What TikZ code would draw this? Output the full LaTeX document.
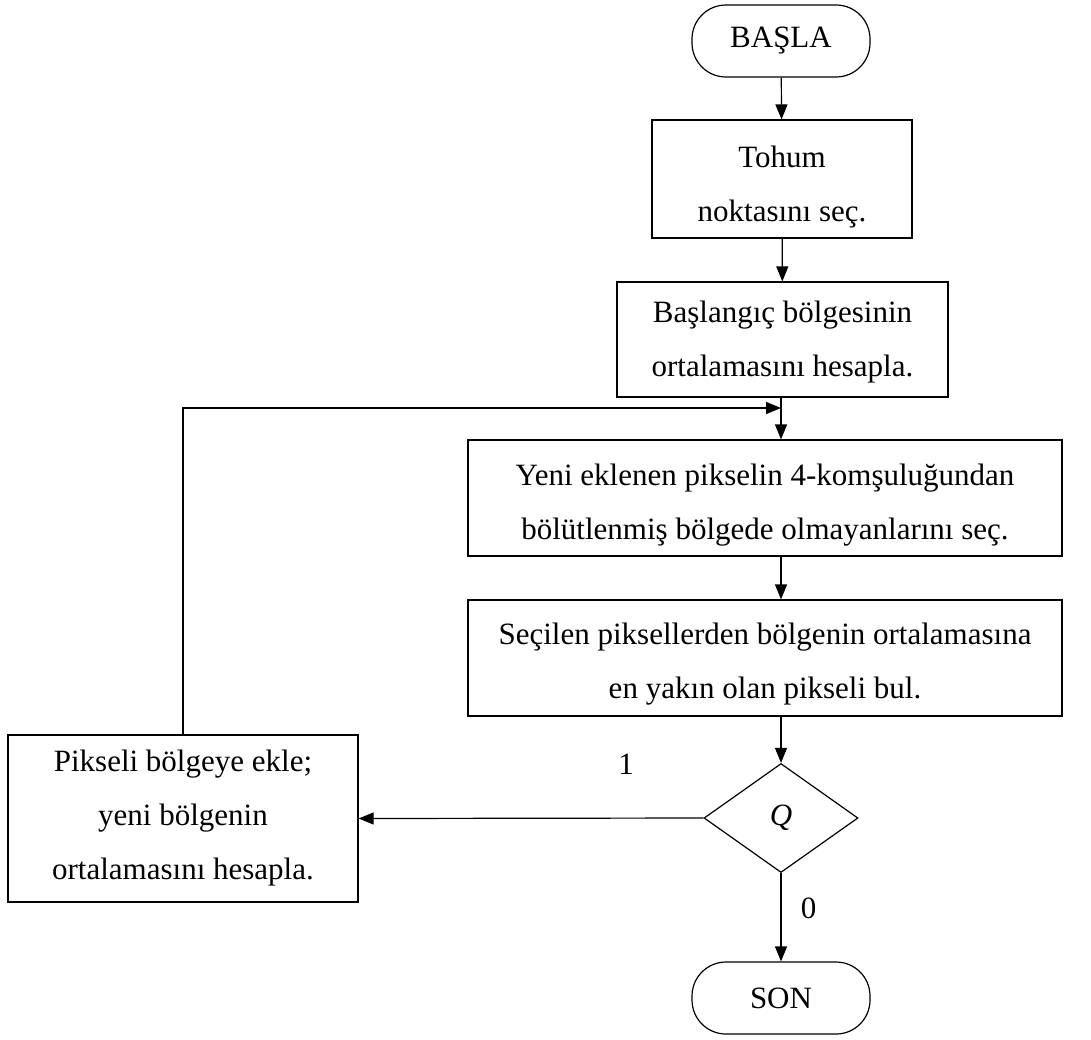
\documentclass[tikz,border=0pt]{standalone}
\usepackage{fontspec}
\setmainfont{Liberation Serif}
\usetikzlibrary{shapes.geometric,arrows.meta}
\begin{document}
\begin{tikzpicture}[x=1pt,y=-1pt,
  every node/.style={font=\fontsize{31}{54}\selectfont},
  base/.style={draw,line width=1.2pt,inner sep=0pt,align=center},
  terminal/.style={base,rounded corners=34pt,minimum width=178pt,minimum height=72pt},
  procbox/.style={base,rectangle},
  decision/.style={base,diamond,minimum width=154pt,minimum height=109pt},
  txt/.style={inner sep=0pt,align=center},
  flow/.style={line width=1.2pt,-{Triangle[length=15pt,width=12pt]}}]
\useasboundingbox (0,0) rectangle (1091,1039);

% terminals
\node[terminal] (start) at (781,41) {BAŞLA};
\node[terminal] (stop) at (781,998) {SON};

% process boxes, their texts set slightly below the middle
\node[procbox,minimum width=260pt,minimum height=118pt] (seed) at (782,179) {};
\node[txt] (seedtxt) at ([yshift=-8pt]seed.center) {Tohum\\noktasını seç.};
\node[procbox,minimum width=331pt,minimum height=115pt] (init) at (782.5,339.5) {};
\node[txt] (inittxt) at ([yshift=-3pt]init.center) {Başlangıç bölgesinin\\ortalamasını hesapla.};
\node[procbox,minimum width=594pt,minimum height=116pt] (nbr) at (765,498) {};
\node[txt] (nbrtxt) at ([yshift=-7pt]nbr.center) {Yeni eklenen pikselin 4-komşuluğundan\\bölütlenmiş bölgede olmayanlarını seç.};
\node[procbox,minimum width=594pt,minimum height=116pt] (near) at (765,658) {};
\node[txt] (neartxt) at ([yshift=-6pt]near.center) {Seçilen piksellerden bölgenin ortalamasına\\en yakın olan pikseli bul.};
\node[procbox,minimum width=350pt,minimum height=167pt] (add) at (183,818.5) {};
\node[txt] (addtxt) at (add.center) {Pikseli bölgeye ekle;\\yeni bölgenin\\ortalamasını hesapla.};

% decision
\node[decision] (q) at (781,818) {\textit{Q}};

% main flow
\draw[flow] (start) -- (seed);
\draw[flow] (seed) -- (init);
\draw[flow] (init.south -| 781,0) -- (nbr.north -| 781,0);
\draw[flow] (nbr.south -| 781,0) -- (near.north -| 781,0);
\draw[flow] (near.south -| 781,0) -- (q.north);
\draw[flow] (q.west) -- (add.east) node[pos=0.5,above=40pt,xshift=95pt] (one) {1};
\draw[flow] (q.south) -- (stop.north) node[pos=0.4,right=16pt] (zero) {0};

% loop back to the neighbour selection step
\coordinate (joint) at (781,408);
\draw[flow] (add.north) |- (joint);
\end{tikzpicture}
\end{document}
